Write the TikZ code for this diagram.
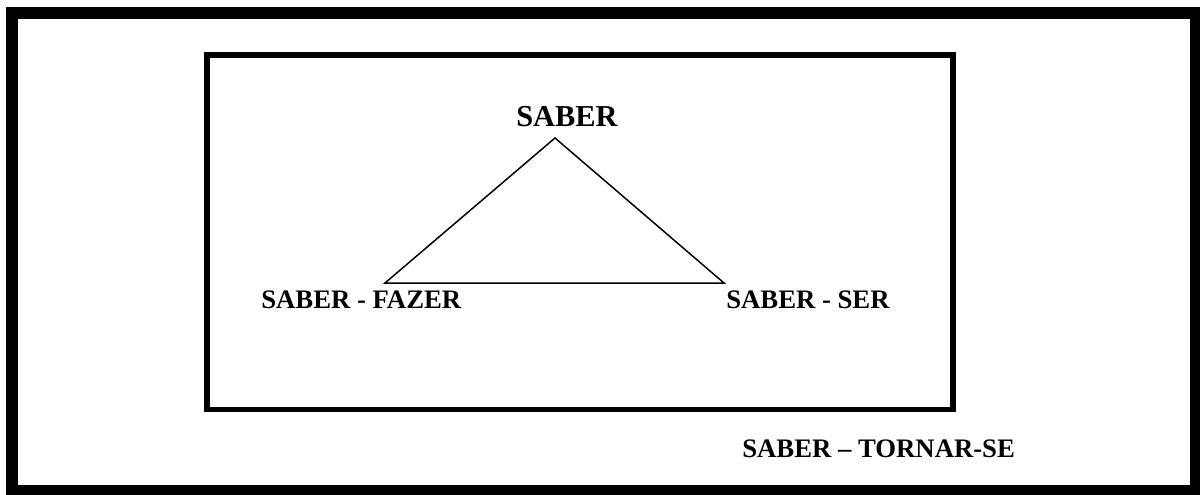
\documentclass[tikz,border=0pt]{standalone}
\usepackage{fontspec}
\setmainfont{Liberation Serif}
\usetikzlibrary{positioning}

\begin{document}
\begin{tikzpicture}[x=0.02cm,y=-0.02cm,every node/.style={align=center,inner sep=0pt},
    rotulo/.style={font=\fontsize{15.2}{18}\selectfont\bfseries}]
    \useasboundingbox (0,0) rectangle (1200,494);
    % marcos
    \draw[line width=6.8pt] (12,13) rectangle (1196,491);
    \draw[line width=3.4pt] (207,54.7) rectangle (953,409.5);
    % triangulo
    \coordinate (topo) at (555,138);
    \coordinate (esq) at (385,283);
    \coordinate (dir) at (724,283);
    \draw[line width=0.85pt,line join=miter] (topo) -- (esq) -- (dir) -- cycle;
    % rotulos
    \node[font=\fontsize{17.3}{20}\selectfont\bfseries,anchor=base] (saber) at (567,126.5) {SABER};
    \node[rotulo,anchor=base west] (fazer) at (261,308) {SABER - FAZER};
    \node[rotulo,anchor=base west] (ser) at (726,308) {SABER - SER};
    \node[rotulo,anchor=base west] (tornar) at (742,457) {SABER -- TORNAR-SE};
\end{tikzpicture}
\end{document}
